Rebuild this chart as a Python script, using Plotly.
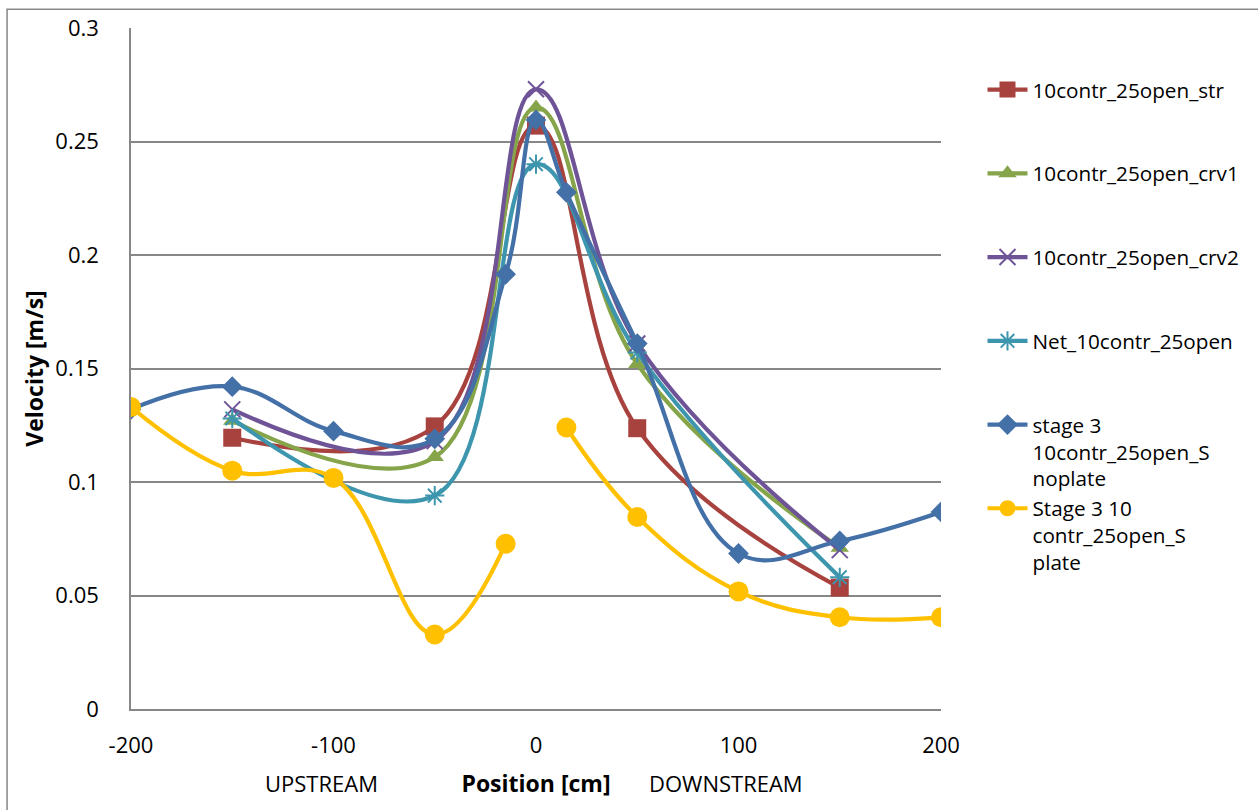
import plotly.graph_objects as go

# Positions along the channel [cm]
x_models = [-150, -50, 0, 50, 150]
x_stage3 = [-200, -150, -100, -50, -15, 0, 15, 50, 100, 150, 200]

# Velocities [m/s]
v_str = [0.1195, 0.1245, 0.257, 0.1237, 0.0535]
v_crv1 = [0.127, 0.111, 0.265, 0.152, 0.071]
v_crv2 = [0.132, 0.118, 0.273, 0.161, 0.070]
v_net = [0.128, 0.094, 0.240, 0.157, 0.058]
v_noplate = [0.132, 0.142, 0.1224, 0.119, 0.1915, 0.2595, 0.2276, 0.161, 0.0685, 0.074, 0.0868]
v_plate = [0.133, 0.105, 0.1018, 0.0328, 0.0728, None, 0.124, 0.0846, 0.0518, 0.0404, 0.0404]

names = [
    "10contr_25open_str",
    "10contr_25open_crv1",
    "10contr_25open_crv2",
    "Net_10contr_25open",
    "stage 3<br>10contr_25open_S<br>noplate",
    "Stage 3 10<br>contr_25open_S<br>plate",
]

x_ticks = [-200, -100, 0, 100, 200]
y_ticks = [0, 0.05, 0.1, 0.15, 0.2, 0.25, 0.3]
y_tick_text = ["0", "0.05", "0.1", "0.15", "0.2", "0.25", "0.3"]

FONT = "'Open Sans', Lato, sans-serif"
GRID = "#878787"


def pad(label):
    # every legend entry takes three text lines so the entries sit evenly
    n = label.count("<br>")
    return label + "<br> " * (2 - n)


series = [
    (x_models, v_str, names[0], "#A8423F", dict(symbol="square", size=18)),
    (x_models, v_crv1, names[1], "#86A44A", dict(symbol="triangle-up", size=16)),
    (x_models, v_crv2, names[2], "#6E5497", dict(symbol="x-thin", size=16,
                                                  line=dict(width=2, color="#6E5497"))),
    (x_models, v_net, names[3], "#3D96AE", dict(symbol="asterisk", size=16,
                                                 line=dict(width=2, color="#3D96AE"))),
    (x_stage3, v_noplate, names[4], "#4470A8", dict(symbol="diamond", size=16)),
    (x_stage3, v_plate, names[5], "#FFC000", dict(symbol="circle", size=20)),
]

fig = go.Figure()
for i, (xs, ys, name, color, marker) in enumerate(series):
    marker = dict(marker)
    marker["color"] = color
    fig.add_trace(go.Scatter(
        x=xs, y=ys, name=pad(name), mode="lines+markers",
        line=dict(color=color, width=4.2, shape="spline", smoothing=1.15),
        marker=marker, connectgaps=False, legendgroup=f"g{i}",
    ))

fig.update_layout(
    width=1258, height=810, autosize=False,
    margin=dict(l=131, r=317, t=24, b=101),
    paper_bgcolor="white", plot_bgcolor="white",
    font=dict(family=FONT, size=22, color="black"),
    showlegend=True,
    legend=dict(
        xref="container", yref="container",
        x=0.781, y=0.914, xanchor="left", yanchor="top",
        font=dict(size=20.7, family=FONT, color="black"),
        valign="top", tracegroupgap=0, bgcolor="rgba(0,0,0,0)",
        itemwidth=40, maxheight=800,
    ),
    xaxis=dict(
        range=[-200, 200], tickvals=x_ticks, ticktext=[str(v) for v in x_ticks],
        showgrid=False, zeroline=False, showline=True, linecolor=GRID, linewidth=1.5,
        ticks="", ticklabelstandoff=16, tickfont=dict(size=22),
        title=dict(text="<b>Position [cm]</b>\u00a0\u00a0\u00a0\u00a0", font=dict(size=23), standoff=18),
    ),
    yaxis=dict(
        range=[0, 0.3], tickvals=y_ticks, ticktext=y_tick_text,
        showgrid=True, gridcolor=GRID, gridwidth=1.5, zeroline=False,
        showline=True, linecolor=GRID, linewidth=1.5,
        ticks="", ticklabelstandoff=26, tickfont=dict(size=22),
        title=dict(text="<b>Velocity [m/s]</b>", font=dict(size=23), standoff=5),
    ),
)

for text, xpos in [("UPSTREAM", -106), ("DOWNSTREAM", 94)]:
    fig.add_annotation(x=xpos, xref="x", y=-0.108, yref="paper", yanchor="middle",
                       text=text, showarrow=False, font=dict(size=22, family=FONT))

# outer frame of the chart area
fig.add_shape(type="rect", xref="paper", yref="paper",
              x0=-0.153, x1=1.6, y0=-0.5, y1=1.0277,
              line=dict(color=GRID, width=1.5), layer="below")

fig.write_html("out.html")
